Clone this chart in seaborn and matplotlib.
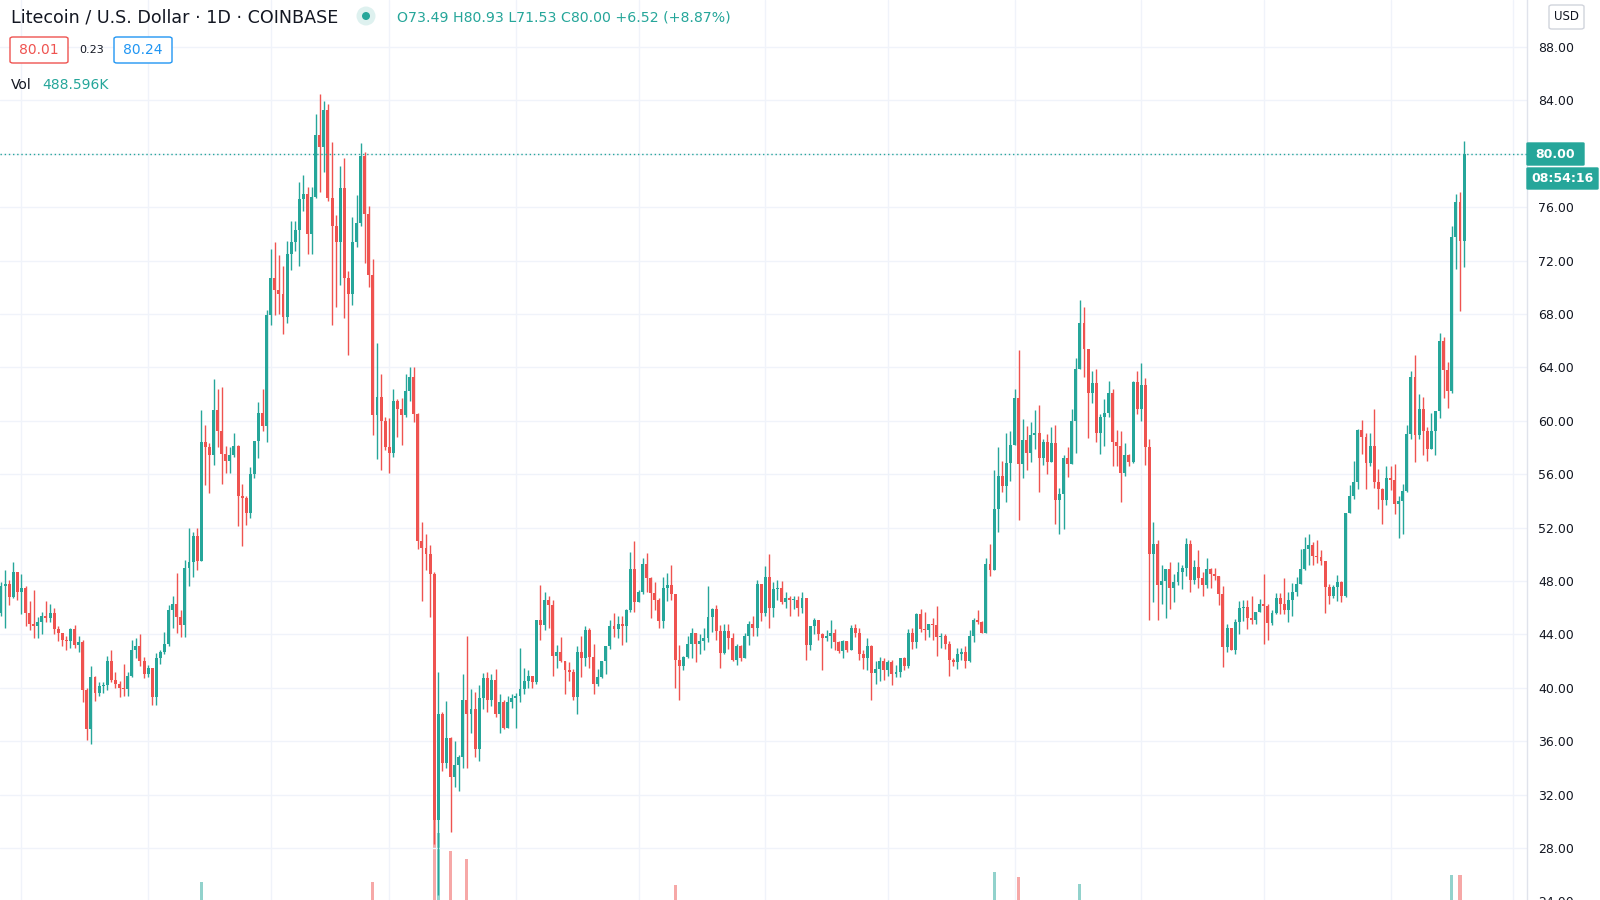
import numpy as np
import pandas as pd
import seaborn as sns
import matplotlib
matplotlib.use("Agg")
import matplotlib.pyplot as plt
from matplotlib.patches import FancyBboxPatch, Ellipse

# ---------------- data ----------------
first_open = 45.6
closes = [
    47.6, 47.8, 46.8, 48.7, 47.2, 47.5, 45.6, 44.8, 44.6, 44.9,
    45.4, 45.2, 45.6, 44.4, 44.1, 43.6, 43.5, 44.4, 43.2, 43.4,
    39.8, 36.9, 40.8, 39.6, 40.1, 40.2, 42.0, 40.6, 40.3, 40.0,
    39.9, 40.9, 42.8, 43.1, 42.0, 41.0, 41.5, 39.3, 42.2, 42.7,
    43.3, 45.8, 46.3, 45.3, 44.7, 49.0, 49.4, 51.4, 49.5, 58.4,
    58.0, 57.4, 60.8, 59.2, 57.5, 57.0, 57.4, 58.1, 54.4, 54.2,
    53.1, 56.0, 58.5, 60.6, 59.6, 67.9, 70.7, 69.8, 69.5, 67.8,
    72.5, 73.4, 74.3, 76.6, 77.0, 74.0, 76.8, 81.4, 80.5, 83.3,
    76.7, 74.6, 73.4, 77.4, 70.7, 69.5, 73.4, 74.8, 79.8, 75.5,
    70.9, 60.4, 61.8, 60.0, 58.0, 57.6, 61.5, 60.9, 60.4, 62.2,
    63.3, 60.5, 51.0, 50.5, 50.0, 48.5, 30.1, 38.0, 34.4, 36.2,
    33.3, 34.2, 34.8, 39.1, 38.0, 38.4, 35.4, 39.2, 40.7, 39.1,
    40.6, 38.0, 38.9, 37.0, 38.9, 39.2, 39.4, 39.9, 40.5, 40.9,
    40.4, 45.1, 44.7, 46.6, 46.2, 42.4, 42.7, 42.0, 41.3, 41.2,
    39.3, 42.7, 42.2, 44.3, 42.3, 40.3, 40.8, 42.0, 43.1, 44.6,
    44.4, 44.75, 44.6, 45.8, 48.9, 46.4, 47.2, 49.3, 48.2, 47.1,
    46.6, 45.0, 47.5, 47.7, 47.0, 42.1, 41.6, 42.3, 43.3, 44.1,
    43.3, 43.5, 43.7, 45.3, 45.9, 44.25, 42.6, 44.25, 43.75, 42.1,
    43.1, 42.25, 43.9, 44.8, 44.45, 47.8, 45.6, 48.3, 46.0, 47.4,
    47.5, 46.4, 46.75, 46.6, 46.6, 45.95, 46.75, 43.2, 44.6, 45.1,
    44.0, 43.7, 43.9, 44.1, 43.4, 42.75, 43.5, 42.8, 44.5, 44.1,
    42.5, 42.2, 43.1, 41.1, 41.4, 42.0, 41.3, 41.9, 41.0, 41.2,
    42.25, 41.6, 44.1, 43.4, 45.5, 44.4, 44.3, 44.8, 44.7, 43.8,
    43.9, 43.3, 42.1, 41.9, 42.5, 42.7, 42.0, 43.9, 45.1, 44.9,
    44.1, 49.3, 48.8, 53.4, 55.9, 55.1, 56.8, 58.2, 61.7, 56.75,
    58.55, 57.55, 58.9, 59.1, 57.2, 58.4, 56.9, 58.3, 54.1, 54.5,
    57.2, 56.75, 60.0, 63.9, 67.3, 65.35, 62.1, 62.8, 59.05, 60.3,
    60.55, 62.05, 58.4, 58.1, 56.1, 57.4, 56.9, 62.9, 60.9, 62.7,
    58.05, 50.05, 50.75, 47.7, 48.0, 48.9, 47.5, 47.9, 48.7, 48.95,
    50.8, 48.1, 49.05, 48.2, 47.7, 48.9, 48.5, 48.4, 47.0, 43.05,
    44.5, 42.85, 44.9, 46.0, 46.05, 45.2, 45.1, 45.7, 46.3, 46.1,
    44.85, 45.6, 46.7, 46.3, 45.85, 46.6, 47.2, 47.8, 48.9, 50.4,
    50.7, 49.9, 49.8, 49.5, 47.55, 46.9, 47.55, 47.95, 46.9, 53.1,
    54.4, 55.4, 59.3, 58.8, 56.85, 58.1, 55.4, 54.9, 54.05, 55.7,
    55.55, 53.75, 54.0, 54.75, 59.0, 63.25, 58.9, 60.9, 59.2, 57.9,
    59.25, 60.75, 66.0, 63.8, 62.25, 73.8, 76.4, 73.49, 80.00,
]
highs = [
    47.9, 48.8, 48.1, 49.4, 48.6, 48.5, 47.6, 46.5, 47.3, 45.3,
    45.7, 46.5, 46.3, 46.0, 44.6, 44.1, 43.9, 44.5, 44.7, 43.9,
    43.6, 40.0, 41.6, 40.9, 40.4, 40.4, 42.4, 42.8, 41.2, 40.5,
    41.8, 41.2, 43.6, 43.7, 44.0, 42.3, 41.7, 41.5, 42.6, 42.8,
    44.2, 46.2, 46.9, 48.6, 45.8, 49.6, 52.0, 51.7, 52.0, 60.8,
    59.7, 58.3, 63.1, 62.4, 62.5, 58.1, 58.0, 59.1, 58.2, 55.3,
    54.4, 56.5, 58.5, 61.4, 62.4, 68.3, 72.9, 73.4, 72.4, 71.6,
    73.5, 75.0, 75.0, 77.9, 78.4, 77.5, 77.5, 83.0, 84.5, 83.95,
    83.7, 80.9, 75.4, 79.1, 79.7, 71.2, 75.3, 76.9, 80.8, 80.1,
    76.1, 72.1, 65.8, 63.5, 60.3, 60.2, 62.4, 61.6, 61.7, 63.5,
    64.0, 64.0, 60.6, 52.4, 51.5, 50.7, 48.7, 41.2, 38.2, 39.0,
    36.3, 36.0, 35.0, 41.0, 43.9, 39.9, 39.7, 40.2, 41.1, 41.2,
    41.0, 41.4, 39.5, 39.1, 39.4, 39.5, 39.6, 43.0, 41.5, 41.3,
    40.9, 45.1, 47.7, 47.2, 46.9, 46.6, 43.2, 43.8, 42.0, 41.9,
    41.4, 43.1, 43.9, 44.6, 44.5, 43.3, 41.4, 42.0, 43.1, 45.1,
    45.6, 45.4, 45.4, 45.9, 50.2, 51.0, 47.3, 49.7, 50.1, 48.3,
    47.9, 46.7, 48.3, 48.6, 49.2, 47.0, 43.2, 42.4, 43.9, 44.5,
    44.1, 44.0, 44.5, 47.6, 46.0, 46.2, 44.7, 44.75, 44.75, 44.1,
    43.3, 43.2, 44.1, 45.0, 45.4, 48.1, 47.8, 49.1, 50.0, 47.9,
    48.1, 48.0, 47.2, 46.9, 46.9, 46.9, 47.2, 46.75, 44.6, 45.2,
    45.1, 44.1, 44.3, 45.1, 44.4, 43.5, 43.6, 43.5, 44.7, 44.8,
    44.5, 42.8, 43.7, 43.2, 42.0, 42.3, 42.2, 42.1, 42.1, 41.7,
    42.25, 42.3, 44.4, 44.5, 45.6, 45.9, 45.7, 44.8, 45.2, 46.1,
    44.1, 44.0, 43.5, 42.2, 43.0, 43.0, 43.1, 44.3, 45.2, 45.8,
    45.0, 49.7, 50.8, 56.3, 58.0, 57.0, 59.1, 59.2, 62.35, 65.3,
    60.1, 59.6, 59.9, 60.8, 61.2, 58.6, 59.0, 59.5, 59.7, 55.0,
    57.4, 58.0, 60.9, 64.7, 69.05, 68.55, 65.35, 63.7, 63.9, 60.5,
    61.6, 63.0, 62.4, 59.3, 59.2, 58.3, 57.5, 63.0, 63.75, 64.35,
    63.2, 58.6, 52.4, 51.1, 49.2, 48.9, 49.45, 48.5, 49.45, 49.2,
    51.25, 51.05, 49.6, 50.35, 48.7, 49.7, 48.95, 48.95, 48.4, 47.6,
    44.8, 44.5, 45.15, 46.5, 46.6, 46.6, 46.9, 45.7, 46.65, 48.5,
    46.3, 45.8, 47.1, 47.1, 48.2, 47.2, 47.85, 48.3, 50.4, 51.3,
    51.55, 50.9, 51.05, 50.3, 49.5, 47.8, 47.7, 48.45, 48.0, 53.1,
    55.2, 57.0, 59.4, 60.05, 59.1, 59.05, 60.9, 56.4, 55.0, 56.6,
    56.6, 56.75, 54.4, 55.3, 59.7, 63.7, 64.9, 62.0, 61.8, 59.55,
    60.6, 60.75, 66.6, 66.3, 64.4, 74.6, 77.0, 77.1, 80.93,
]
lows = [
    45.4, 44.5, 46.2, 46.7, 46.6, 45.5, 44.6, 44.3, 43.7, 43.7,
    44.0, 44.9, 44.9, 44.0, 43.5, 43.1, 42.8, 43.0, 43.0, 42.7,
    38.9, 36.1, 35.8, 39.0, 39.4, 39.6, 39.8, 40.4, 40.0, 39.3,
    39.4, 39.4, 40.8, 42.2, 41.6, 40.7, 40.8, 38.7, 38.7, 41.8,
    42.5, 43.1, 44.5, 44.1, 43.8, 43.8, 47.6, 48.3, 48.8, 49.5,
    55.2, 54.6, 56.7, 58.0, 55.3, 56.1, 56.1, 57.3, 52.1, 50.6,
    52.2, 52.7, 55.7, 57.2, 59.2, 58.4, 67.2, 67.9, 68.0, 66.5,
    67.3, 71.3, 72.7, 71.6, 75.7, 72.5, 72.5, 76.7, 77.1, 78.6,
    76.5, 67.2, 68.5, 70.2, 67.7, 64.9, 68.7, 73.0, 74.6, 71.8,
    70.0, 58.9, 57.1, 56.3, 57.8, 56.1, 57.3, 58.8, 58.2, 60.3,
    61.5, 59.9, 50.4, 46.5, 48.8, 45.3, 28.3, 24.5, 33.8, 34.0,
    29.2, 32.6, 32.3, 34.0, 34.0, 36.6, 34.8, 34.5, 38.4, 38.2,
    38.6, 37.8, 36.6, 36.9, 37.0, 38.5, 37.0, 38.9, 39.5, 40.0,
    40.0, 40.3, 43.6, 44.3, 44.5, 40.9, 41.5, 41.9, 39.5, 40.5,
    39.1, 38.0, 40.8, 41.6, 41.5, 39.5, 40.1, 40.7, 41.0, 42.9,
    43.8, 43.7, 43.2, 43.4, 45.7, 45.7, 46.4, 47.0, 47.2, 45.2,
    45.8, 44.5, 44.5, 46.5, 46.6, 40.0, 39.1, 41.3, 42.2, 42.2,
    41.9, 42.5, 42.8, 43.4, 44.2, 43.6, 41.5, 42.5, 42.9, 42.0,
    41.7, 42.0, 42.25, 43.2, 43.9, 43.9, 45.0, 45.4, 44.5, 45.3,
    46.6, 46.3, 46.0, 45.4, 45.9, 45.4, 45.6, 42.1, 42.8, 44.0,
    43.6, 41.3, 43.5, 43.0, 42.8, 42.6, 42.2, 42.7, 42.8, 43.8,
    42.1, 41.4, 41.3, 39.1, 40.3, 40.5, 40.6, 40.9, 40.2, 40.8,
    40.8, 41.3, 41.5, 42.9, 43.0, 44.2, 43.6, 43.8, 43.6, 42.4,
    43.0, 42.9, 40.9, 41.6, 41.4, 42.1, 41.5, 41.9, 43.4, 44.8,
    44.1, 44.1, 48.4, 48.8, 51.7, 54.7, 53.9, 55.5, 58.2, 52.6,
    55.7, 56.3, 56.9, 57.9, 54.7, 56.7, 56.0, 56.9, 52.3, 51.5,
    51.9, 55.8, 56.75, 57.6, 63.9, 63.3, 58.7, 61.3, 58.4, 57.5,
    58.1, 60.3, 56.6, 56.6, 53.9, 55.9, 56.6, 56.8, 60.5, 60.0,
    56.7, 45.05, 46.4, 45.05, 46.25, 45.2, 45.9, 46.45, 47.7, 47.4,
    48.4, 47.2, 47.8, 47.5, 46.85, 47.5, 47.5, 48.05, 46.2, 41.55,
    42.7, 42.8, 42.5, 44.0, 45.0, 44.4, 44.8, 44.8, 46.1, 43.25,
    43.55, 44.7, 45.5, 45.55, 45.55, 44.9, 45.4, 46.9, 47.8, 48.8,
    49.2, 49.2, 49.35, 49.2, 45.6, 46.3, 46.7, 46.5, 46.4, 46.8,
    53.1, 54.15, 54.9, 57.5, 54.9, 56.6, 54.95, 53.4, 52.3, 53.7,
    54.8, 53.0, 51.2, 51.5, 54.7, 58.6, 56.9, 58.6, 57.4, 57.0,
    57.85, 57.4, 60.2, 61.7, 60.95, 62.05, 71.4, 68.2, 71.53,
]
# volume (thousands) for the days whose bars rise into view at the bottom
vol_days = [49, 91, 106, 107, 110, 114, 165, 243, 249, 264, 355, 357]
vol_vals = [730, 730, 1840, 1300, 1100, 1000, 700, 850, 790, 710, 810, 820]
# month boundaries (candle index) for the vertical grid
month_ticks = [5, 36, 66, 95, 126, 156, 187, 217, 248, 279, 309, 340, 370]
price_ticks = list(range(24, 89, 4))
last_price = 80.00
countdown = "08:54:16"

# ---------------- styling ----------------
sns.set_theme(style="white")
plt.rcParams['font.family'] = ['DejaVu Sans']
GREEN = '#26a69a'
RED = '#ef5350'
TXT = '#131722'
GRID = '#f0f3fa'

n = len(closes)
df = pd.DataFrame({'close': closes, 'high': highs, 'low': lows})
df['open'] = [first_open] + closes[:-1]
df['x'] = np.arange(n)
df['up'] = df['close'] >= df['open']
df['high'] = np.maximum(df['high'], df[['open', 'close']].max(axis=1))
df['low'] = np.minimum(df['low'], df[['open', 'close']].min(axis=1))
df['color'] = np.where(df['up'], GREEN, RED)
df['bot'] = df[['open', 'close']].min(axis=1)
df['h'] = np.maximum((df['close'] - df['open']).abs(), 0.075)

W, H = 1600, 900
fig = plt.figure(figsize=(16, 9), dpi=100)
fig.patch.set_facecolor('white')

axw = 1527 / W
ax = fig.add_axes([0, -0.05, axw, 1.05])
ax2 = ax.twinx()
ax.set_zorder(ax2.get_zorder() + 1)
ax.patch.set_visible(False)

# volume
vdf = pd.DataFrame({'x': vol_days, 'v': vol_vals})
vdf['color'] = [df['color'][i] for i in vol_days]
ax2.bar(vdf['x'], vdf['v'], width=0.75, color=vdf['color'], alpha=0.5, linewidth=0)
ax2.set_ylim(0, 11000)
ax2.set_yticks([])
for s in ax2.spines.values():
    s.set_visible(False)

# grid
for p in price_ticks + [92]:
    ax.axhline(p, color=GRID, lw=1, zorder=0)
for m in month_ticks:
    ax.axvline(m, color=GRID, lw=1, zorder=0)

# candles
ax.vlines(df['x'], df['low'], df['high'], colors=df['color'], lw=1.0, zorder=2)
ax.bar(df['x'], df['h'], bottom=df['bot'], width=0.72, color=df['color'],
       linewidth=0, zorder=3)

# last price dotted line
ax.axhline(last_price, color=GREEN, lw=1, ls=(0, (1, 2)), zorder=4)

ax.set_xlim(-0.245, 373.4)
ax.set_ylim(20.73, 91.52)
ax.set_xticks([])
ax.yaxis.tick_right()
ax.set_yticks(price_ticks)
ax.set_yticklabels(['' if p == 80 else f'{p:.2f}' for p in price_ticks])
ax.tick_params(axis='y', length=0, pad=8, labelsize=9, labelcolor=TXT)
ax2.tick_params(axis='y', length=0)
for k, s in ax.spines.items():
    s.set_visible(False)
ax.spines['right'].set_visible(True)
ax.spines['right'].set_color('#e0e3eb')
ax.spines['right'].set_linewidth(1)

# ---------------- helpers in pixel coords ----------------
def fx(px):
    return px / W

def fy(py):
    return 1 - py / H

def box(x0, y0, x1, y1, fc, ec, lw=1.0, r=3):
    p = FancyBboxPatch((fx(x0), fy(y1)), fx(x1) - fx(x0), fy(y0) - fy(y1),
                       boxstyle=f"round,pad=0,rounding_size={r / W}",
                       transform=fig.transFigure, fc=fc, ec=ec, lw=lw, zorder=20)
    fig.add_artist(p)

def label(px, py, s, **kw):
    kw.setdefault('zorder', 30)
    return fig.text(fx(px), fy(py), s, **kw)

# right side labels
box(1527, 143, 1584, 165, GREEN, GREEN, r=1)
label(1555.5, 154, f'{last_price:.2f}', color='white', fontsize=9,
      fontweight='bold', ha='center', va='center')
box(1527, 168, 1598, 189, GREEN, GREEN, r=1)
label(1562.5, 178.5, countdown, color='white', fontsize=9,
      fontweight='bold', ha='center', va='center')
box(1549, 5, 1584, 29, 'white', '#d1d4dc', r=3)
label(1566.5, 17, 'USD', color=TXT, fontsize=8.5, ha='center', va='center')

# legend header
label(11, 17, 'Litecoin / U.S. Dollar · 1D · COINBASE', color=TXT,
      fontsize=12.6, ha='left', va='center')
fig.add_artist(Ellipse((fx(366), fy(16)), 19 / W, 19 / H, transform=fig.transFigure,
                       fc=GREEN, alpha=0.15, ec='none', zorder=25))
fig.add_artist(Ellipse((fx(366), fy(16)), 8 / W, 8 / H, transform=fig.transFigure,
                       fc=GREEN, ec='none', zorder=26))
label(397, 17.5, 'O73.49 H80.93 L71.53 C80.00 +6.52 (+8.87%)',
      color=GREEN, fontsize=10.2, ha='left', va='center')

box(10, 37, 68, 63, 'white', RED, r=3)
label(39, 50, '80.01', color=RED, fontsize=10, ha='center', va='center')
label(91.5, 50, '0.23', color=TXT, fontsize=8, ha='center', va='center')
box(114, 37, 172, 63, 'white', '#2196f3', r=3)
label(143, 50, '80.24', color='#2196f3', fontsize=10, ha='center', va='center')

label(11, 85, 'Vol', color=TXT, fontsize=10, ha='left', va='center')
label(42, 85, '488.596K', color=GREEN, fontsize=10, ha='left', va='center')

fig.savefig('out.png', dpi=100)
